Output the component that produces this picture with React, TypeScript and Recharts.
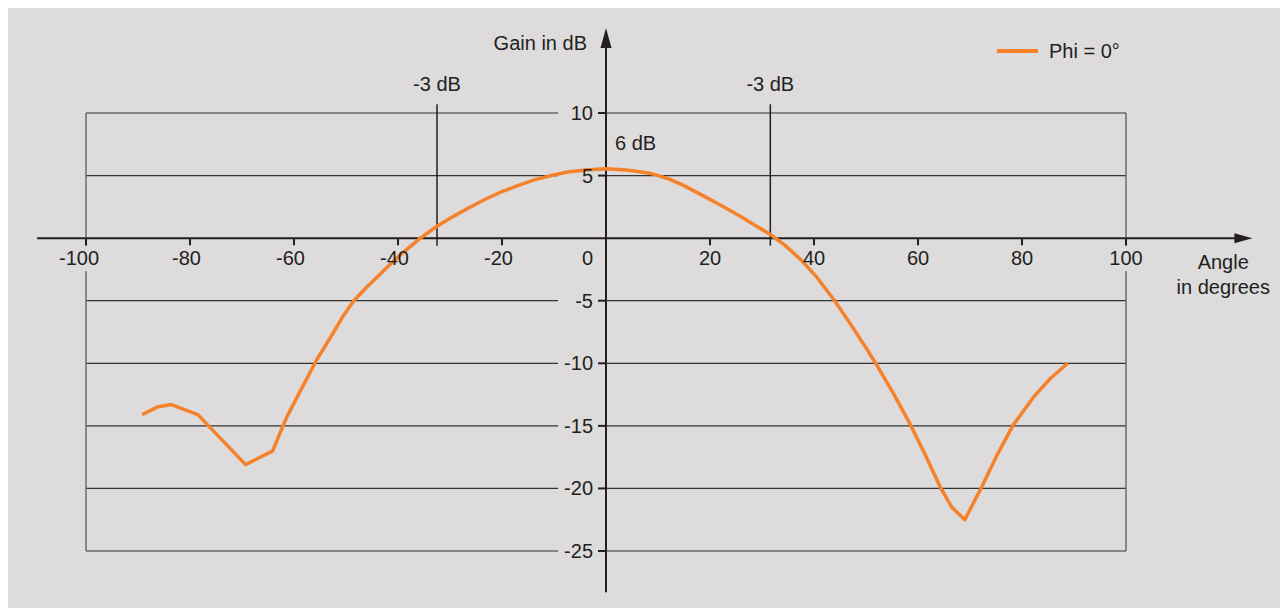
import React from 'react';
import { LineChart, Line, XAxis, YAxis, ReferenceLine, ReferenceDot } from 'recharts';

const angles = [
  -89.2, -86.3, -83.6, -78.5, -69.3, -64.1, -61.4, -58.9, -55.6, -52.5, -50.5, -48.5, -46, -43.5, -40.8, -38, -35.7,
  -32.5, -29.5, -26.7, -23.5, -20.3, -17, -13.8, -10.5, -7.4, -4, 0, 4, 8.4, 12, 15, 18, 22, 25.8, 28.8, 31.6, 34.5,
  37.4, 40.5, 43.8, 47, 50.2, 52.3, 55.4, 58.4, 61.5, 64.4, 66.5, 69, 72.1, 75, 78.2, 82.4, 85.5, 88.8,
];
const gains = [
  -14.1, -13.5, -13.3, -14.1, -18.1, -17.0, -14.3, -12.3, -9.7, -7.6, -6.2, -5.0, -3.9, -2.9, -1.8, -0.8, 0,
  0.95, 1.7, 2.35, 3.05, 3.67, 4.2, 4.66, 5.0, 5.28, 5.45, 5.55, 5.45, 5.19, 4.75, 4.2, 3.54, 2.65, 1.75, 1.0, 0.3, -0.6,
  -1.7, -3.1, -4.9, -6.85, -8.9, -10.3, -12.5, -14.8, -17.4, -20.0, -21.5, -22.5, -20.0, -17.5, -15.0, -12.6, -11.2, -10.0,
];

const xTicks = [-100, -80, -60, -40, -20, 0, 20, 40, 60, 80, 100];
const yTicks = [10, 5, -5, -10, -15, -20, -25];
const halfPowerAngles = [-32.5, 31.6];

const data = angles.map((a, i) => ({ angle: a, gain: gains[i] }));

const BG = '#dddbdc';
const INK = '#231f20';
const ORANGE = '#f5822a';
const FONT = '"Liberation Sans", Arial, sans-serif';

const txt = { fontFamily: FONT, fontSize: 20, fill: INK };

// gap left of the y axis where the tick labels sit (in degrees)
const LABEL_GAP = 9.2;

const XTick = ({ cx, cy, value }: any) => {
  if (cx == null) return null;
  const edge = value === -100 || value === 100;
  if (value === 0) {
    return <text x={cx - 13} y={cy + 26.5} textAnchor="end" style={txt}>0</text>;
  }
  const dx = value === -100 ? -7 : value < 0 ? -3.5 : 0;
  return (
    <g>
      {edge && <rect x={cx - 26} y={cy + 8} width={52} height={25} fill={BG} />}
      <line x1={cx} y1={cy} x2={cx} y2={cy + 7} stroke={INK} strokeWidth={2} />
      <text x={cx + dx} y={cy + 26.5} textAnchor="middle" style={txt}>{value}</text>
    </g>
  );
};

const YTick = ({ cx, cy, value }: any) => {
  if (cx == null) return null;
  return (
    <g>
      <line x1={cx - 8} y1={cy} x2={cx} y2={cy} stroke={INK} strokeWidth={2} />
      <text x={cx - 13} y={cy + 7} textAnchor="end" style={txt}>{value}</text>
    </g>
  );
};

export default function App() {
  return (
    <div style={{ position: 'relative', marginLeft: -4, width: 1284, height: 600, background: BG }}>
      <LineChart width={1284} height={600} data={data} margin={{ top: 105, right: 162, bottom: 57, left: 82 }}>
        <XAxis type="number" dataKey="angle" domain={[-100, 100]} allowDataOverflow hide />
        <YAxis type="number" domain={[-25, 10]} allowDataOverflow hide />
        {yTicks.map((v) => (
          <ReferenceLine key={'hl' + v} segment={[{ x: -100, y: v }, { x: -LABEL_GAP, y: v }]} stroke="#333" strokeWidth={1.2} />
        ))}
        {yTicks.map((v) => (
          <ReferenceLine key={'hr' + v} segment={[{ x: 0, y: v }, { x: 100, y: v }]} stroke="#333" strokeWidth={1.2} />
        ))}
        <ReferenceLine x={-100} stroke="#666" strokeWidth={1.4} />
        <ReferenceLine x={100} stroke="#666" strokeWidth={1.4} />
        {halfPowerAngles.map((a) => (
          <ReferenceLine
            key={'m' + a}
            segment={[{ x: a, y: -0.6 }, { x: a, y: 10.7 }]}
            stroke={INK}
            strokeWidth={1.5}
            ifOverflow="visible"
          />
        ))}
        <ReferenceLine segment={[{ x: -109.4, y: 0 }, { x: 121, y: 0 }]} stroke={INK} strokeWidth={2} ifOverflow="visible" />
        <ReferenceLine segment={[{ x: 0, y: -28.3 }, { x: 0, y: 15.2 }]} stroke={INK} strokeWidth={2} ifOverflow="visible" />
        <ReferenceDot
          x={124.3}
          y={0}
          ifOverflow="visible"
          shape={({ cx, cy }: any) => <path d={`M${cx},${cy} L${cx - 18},${cy - 5} L${cx - 18},${cy + 5} Z`} fill={INK} />}
        />
        <ReferenceDot
          x={0}
          y={16.8}
          ifOverflow="visible"
          shape={({ cx, cy }: any) => <path d={`M${cx},${cy} L${cx - 5.5},${cy + 20} L${cx + 5.5},${cy + 20} Z`} fill={INK} />}
        />
        {xTicks.map((v) => (
          <ReferenceDot key={'xt' + v} x={v} y={0} ifOverflow="visible" shape={(p: any) => <XTick {...p} value={v} />} />
        ))}
        {yTicks.map((v) => (
          <ReferenceDot key={'yt' + v} x={0} y={v} ifOverflow="visible" shape={(p: any) => <YTick {...p} value={v} />} />
        ))}
        {halfPowerAngles.map((a) => (
          <ReferenceDot
            key={'ml' + a}
            x={a}
            y={10.7}
            ifOverflow="visible"
            shape={({ cx, cy }: any) => (
              <text x={cx} y={cy - 13} textAnchor="middle" style={txt}>-3 dB</text>
            )}
          />
        ))}
        <ReferenceDot
          x={0}
          y={7.6}
          ifOverflow="visible"
          shape={({ cx, cy }: any) => <text x={cx + 9} y={cy + 7} style={txt}>6 dB</text>}
        />
        <ReferenceDot
          x={0}
          y={15.6}
          ifOverflow="visible"
          shape={({ cx, cy }: any) => <text x={cx - 19} y={cy + 7} textAnchor="end" style={txt}>Gain in dB</text>}
        />
        <ReferenceDot
          x={118.7}
          y={0}
          ifOverflow="visible"
          shape={({ cx, cy }: any) => (
            <text textAnchor="middle" style={txt}>
              <tspan x={cx} y={cy + 31}>Angle</tspan>
              <tspan x={cx} y={cy + 56}>in degrees</tspan>
            </text>
          )}
        />
        <Line
          type="linear"
          dataKey="gain"
          stroke={ORANGE}
          strokeWidth={3.5}
          strokeLinejoin="round"
          dot={false}
          isAnimationActive={false}
          name="Phi = 0°"
        />
      </LineChart>
      <div
        style={{
          position: 'absolute',
          top: 31,
          left: 993,
          height: 24,
          display: 'flex',
          alignItems: 'center',
          fontFamily: FONT,
          fontSize: 20,
          color: INK,
        }}
      >
        <span style={{ display: 'inline-block', width: 41, height: 4, background: ORANGE }} />
        <span style={{ marginLeft: 11 }}>Phi = 0°</span>
      </div>
    </div>
  );
}
